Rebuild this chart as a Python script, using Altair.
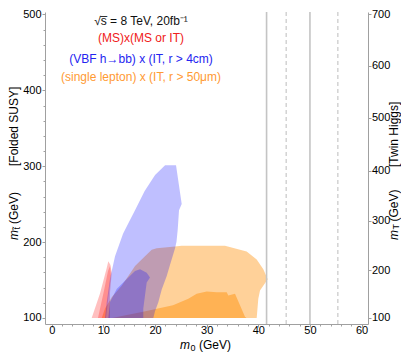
import altair as alt
import pandas as pd

# ---------------- data (m0 in GeV, m_stop in GeV) ----------------
orange_outer_x = [9.68, 10.32, 11.62, 13.55, 15.49, 16.13, 18.06, 19.36, 20.33, 23.87, 25.17, 33.55, 36.46, 37.75, 39.69, 40.97, 41.82, 40.33, 40.0, 39.69]
orange_outer_y = [100, 112.5, 127.5, 142.6, 161.9, 168.4, 181.3, 189.9, 192.0, 194.2, 195.1, 195.1, 189.9, 187.7, 177.0, 164.1, 151.2, 136.1, 125.4, 100]

orange_inner_x = [11.67, 17.68, 23.48, 26.45, 28.07, 30.01, 31.95, 33.88, 34.19, 35.49, 37.42, 37.72]
orange_inner_y = [100, 108.1, 116.8, 125.4, 131.9, 134.8, 133.9, 133.9, 129.7, 131.9, 101.7, 100]

red_outer_x = [7.74, 9.35, 10.65, 10.96, 11.38, 11.62, 11.29, 11.29]
red_outer_y = [100, 132.3, 165.8, 174.8, 169.7, 159.4, 133.5, 100]

red_inner_x = [8.96, 10.13, 10.90, 11.29, 11.48, 11.09, 10.51]
red_inner_y = [100, 136.1, 161.9, 168.4, 156.8, 133.5, 100]

blue_outer_x = [10.32, 10.65, 11.29, 12.26, 13.81, 15.16, 16.13, 17.97, 20.01, 21.95, 24.07, 25.17, 24.65, 24.39, 24.16, 23.87, 22.90, 22.27, 21.30, 20.64, 20.0, 19.67]
blue_outer_y = [100, 120.6, 151.6, 181.3, 211.0, 229.0, 241.9, 267.1, 288.4, 301.3, 301.3, 250.1, 241.9, 216.1, 200.6, 191.6, 169.7, 155.5, 137.4, 120.6, 109.0, 100]

blue_inner_x = [10.96, 11.29, 12.58, 14.19, 16.13, 17.10, 18.39, 19.03, 18.39, 18.06, 17.73, 17.73]
blue_inner_y = [100, 121.0, 138.3, 149.0, 161.9, 164.1, 159.7, 153.3, 146.8, 129.7, 112.5, 100]

solid_lines_x = [41.6, 50.0]
dashed_lines_x = [45.4, 55.4]

x_ticks_major = [0, 10, 20, 30, 40, 50, 60]
x_ticks_minor = [v for v in range(0, 61, 2) if v % 10 != 0]
y_ticks_major = [100, 200, 300, 400, 500]
y_ticks_minor = [v for v in range(100, 501, 20) if v % 100 != 0]
# right axis (m_T) labels and their position on the m_stop scale
right_tick_labels = [100, 200, 300, 400, 500, 600, 700]
right_tick_positions = [100, 163.2, 228.4, 294.3, 363.8, 432.2, 500]

ann_texts = ["\u221as\u0305 = 8 TeV, 20fb\u207b\u00b9",
             "(MS)x(MS or IT)",
             "(VBF h\u2192bb) x (IT, r > 4cm)",
             "(single lepton) x (IT, r > 50\u03bcm)"]
ann_colors = ["#111111", "#F02020", "#2424F0", "#FF9A33"]

# ---------------- layout ----------------
W, H = 323, 312
FONT = "Liberation Sans"
xscale = alt.Scale(domain=[-1.30, 61.24], nice=False, zero=False)
yscale = alt.Scale(domain=[92.09, 503.29], nice=False, zero=False)
ax_col = "#a0a0a0"

common = dict(grid=False, title=None, domainColor=ax_col, tickColor=ax_col,
              labelColor="#000000", labelFont=FONT, labelFontSize=11,
              labelOverlap=False)


def poly(xs, ys, color, op):
    df = pd.DataFrame({"x": xs, "y": ys, "i": list(range(len(xs)))})
    return alt.Chart(df).mark_line(
        fill=color, fillOpacity=op, strokeOpacity=0, interpolate="linear-closed"
    ).encode(
        x=alt.X("x:Q", scale=xscale, axis=None),
        y=alt.Y("y:Q", scale=yscale, axis=None),
        order=alt.Order("i:Q"),
    )


layers = [
    poly(orange_outer_x, orange_outer_y, "#FF8C00", 0.40),
    poly(orange_inner_x, orange_inner_y, "#FF8C00", 0.45),
    poly(red_outer_x, red_outer_y, "#FF0000", 0.25),
    poly(red_inner_x, red_inner_y, "#FF0000", 0.25),
    poly(blue_outer_x, blue_outer_y, "#0000FF", 0.25),
    poly(blue_inner_x, blue_inner_y, "#0000FF", 0.25),
]

solid = alt.Chart(pd.DataFrame({"x": solid_lines_x})).mark_rule(
    color="#c4c4c4", strokeWidth=1.6).encode(x=alt.X("x:Q", scale=xscale, axis=None))
dashed = alt.Chart(pd.DataFrame({"x": dashed_lines_x})).mark_rule(
    color="#cccccc", strokeWidth=1.3, strokeDash=[4, 3]).encode(x=alt.X("x:Q", scale=xscale, axis=None))
layers += [solid, dashed]


def xaxis_layer(vals, axis):
    return alt.Chart(pd.DataFrame({"v": vals})).mark_point(opacity=0).encode(
        x=alt.X("v:Q", scale=xscale, axis=axis))


def yaxis_layer(vals, axis):
    return alt.Chart(pd.DataFrame({"v": vals})).mark_point(opacity=0).encode(
        y=alt.Y("v:Q", scale=yscale, axis=axis))


layers.append(xaxis_layer(x_ticks_major, alt.Axis(
    orient="bottom", values=x_ticks_major, tickSize=3, labelPadding=3.5,
    labelBaseline="middle", **common)))
layers.append(xaxis_layer(x_ticks_minor, alt.Axis(
    orient="bottom", values=x_ticks_minor, tickSize=2, labels=False, domain=False,
    **common)))
layers.append(yaxis_layer(y_ticks_major, alt.Axis(
    orient="left", values=y_ticks_major, tickSize=3, labelPadding=1, **common)))
layers.append(yaxis_layer(y_ticks_minor, alt.Axis(
    orient="left", values=y_ticks_minor, tickSize=2, labels=False, domain=False,
    **common)))

expr = "''"
for pos, lab in reversed(list(zip(right_tick_positions, right_tick_labels))):
    expr = f"abs(datum.value - {pos}) < 1 ? '{lab}' : ({expr})"
layers.append(yaxis_layer(right_tick_positions, alt.Axis(
    orient="right", values=right_tick_positions, labelExpr=expr, tickSize=3,
    labelPadding=0.5, **common)))

one = pd.DataFrame({"a": [0]})


def txt(s, x, y, size=12, color="#000000", style="normal", align="center", angle=0):
    kw = dict(text=s, fontSize=size, color=color, font=FONT, align=align, baseline="middle")
    if style != "normal":
        kw["fontStyle"] = style
    if angle:
        kw["angle"] = angle
    return alt.Chart(one).mark_text(**kw).encode(x=alt.value(x), y=alt.value(y))


# plot origin is at page (45, 12)
ann_y = [9, 26, 47, 65]
for s, c, yy in zip(ann_texts, ann_colors, ann_y):
    layers.append(txt(s, 96, yy, size=12, color=c))

# bottom title m_0 (GeV)
layers += [
    txt("m", 145, 333, size=12, style="italic", align="right"),
    txt("0", 145.5, 336, size=9, align="left"),
    txt("(GeV)", 154, 333, size=12, align="left"),
]
# left title
lx = -31
layers += [
    txt("m", lx, 218, size=12, style="italic", align="right", angle=270),
    txt("t\u0303", lx + 3, 217.5, size=9, align="left", angle=270),
    txt("(GeV)", lx, 212, size=12, align="left", angle=270),
    txt("[Folded SUSY]", lx, 154, size=12, align="left", angle=270),
]
# right title
rx = 348.5
layers += [
    txt("m", rx, 218, size=12, style="italic", align="right", angle=270),
    txt("T", rx + 2.5, 217.5, size=9, align="left", angle=270),
    txt("(GeV)", rx, 209.5, size=12, align="left", angle=270),
    txt("[Twin Higgs]", rx, 155, size=12, align="left", angle=270),
]

chart = alt.layer(*layers).resolve_axis(x="independent", y="independent").properties(
    width=W, height=H,
    autosize=alt.AutoSizeParams(type="none"),
    padding={"left": 37, "top": 4, "right": 33, "bottom": 28},
).configure_view(stroke=None)

chart.save("out.html", embed_options={"renderer": "svg", "actions": False})
